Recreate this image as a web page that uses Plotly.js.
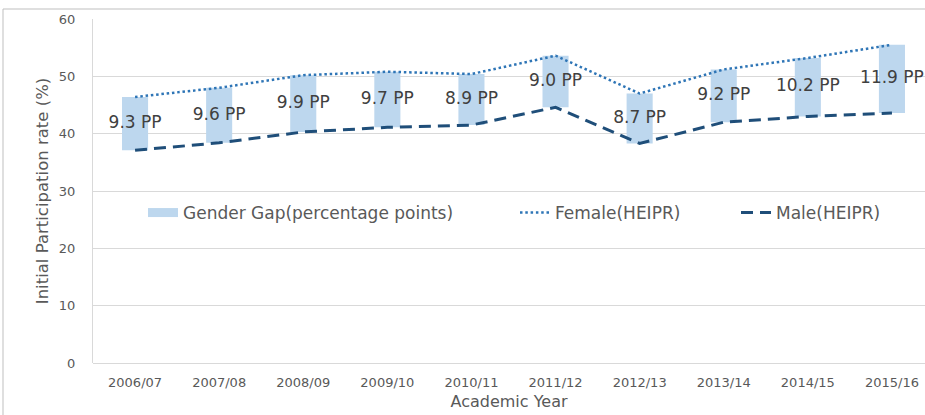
<!DOCTYPE html>
<html>
<head>
<meta charset="utf-8">
<script src="https://cdn.plot.ly/plotly-3.0.1.min.js"></script>
<style>html,body{margin:0;padding:0;background:#fff;}#chart{width:925px;height:415px;}</style>
</head>
<body>
<div id="chart"></div>
<script>
const years = ["2006/07","2007/08","2008/09","2009/10","2010/11","2011/12","2012/13","2013/14","2014/15","2015/16"];
const female = [46.4, 48.0, 50.2, 50.8, 50.4, 53.6, 47.0, 51.2, 53.2, 55.5];
const male = [37.1, 38.4, 40.3, 41.1, 41.5, 44.6, 38.3, 42.0, 43.0, 43.6];
const gap = [9.3, 9.6, 9.9, 9.7, 8.9, 9.0, 8.7, 9.2, 10.2, 11.9];
const yTicks = [0, 10, 20, 30, 40, 50, 60];

const FONT = "DejaVu Sans";
const GREY = "#595959";
const L = 93, R = 925, T = 19, B = 363;
const pw = R - L, ph = B - T;
const px = v => (v - L) / pw;
const py = v => (B - v) / ph;

const gapLabels = gap.map(g => g.toFixed(1) + " PP");
const labelY = male.map((m, i) => m + gap[i] / 2);

const traces = [
  {type: "bar", x: years, y: gap, base: male, width: 0.31,
   marker: {color: "#BDD7EE", line: {width: 0}}, showlegend: false, hoverinfo: "skip"},
  {type: "scatter", mode: "lines", name: "Gender Gap(percentage points)",
   x: [null], y: [null], line: {color: "#BDD7EE", width: 9}, legend: "legend", hoverinfo: "skip"},
  {type: "scatter", mode: "lines", name: "Female(HEIPR)", x: years, y: female,
   line: {color: "#2E75B6", width: 2.5, dash: "2.5px,2.8px"}, legend: "legend2"},
  {type: "scatter", mode: "lines", name: "Male(HEIPR)", x: years, y: male,
   line: {color: "#1F4E79", width: 3, dash: "12px,7px"}, legend: "legend3"},
  {type: "scatter", mode: "text", x: years, y: labelY, text: gapLabels,
   textposition: "middle center", textfont: {family: FONT, size: 17, color: "#404040"},
   showlegend: false, hoverinfo: "skip"}
];

const legBase = {orientation: "h", yanchor: "middle", xanchor: "left", y: py(213),
  bgcolor: "rgba(0,0,0,0)", borderwidth: 0,
  font: {family: FONT, size: 17, color: GREY}, itemwidth: 30};

const layout = {
  width: 925, height: 415,
  margin: {l: L, r: 925 - R, t: T, b: 415 - B, pad: 0},
  paper_bgcolor: "#fff", plot_bgcolor: "#fff",
  font: {family: FONT, color: GREY},
  barmode: "overlay",
  xaxis: {
    type: "category", range: [-0.5, 9.393], showgrid: false, zeroline: false,
    showline: false, ticks: "", tickfont: {family: FONT, size: 13, color: GREY},
    ticklabelstandoff: 10,
    title: {text: "Academic Year", font: {family: FONT, size: 16, color: GREY}, standoff: 6}
  },
  yaxis: {
    range: [0, 60], tickvals: yTicks, showgrid: true, gridcolor: "#D9D9D9", gridwidth: 1,
    zeroline: true, zerolinecolor: "#D9D9D9", zerolinewidth: 1,
    showline: true, linecolor: "#D9D9D9", linewidth: 1,
    ticks: "", tickfont: {family: FONT, size: 13, color: GREY}, ticklabelstandoff: 14,
    title: {text: "Initial Participation rate (%)", font: {family: FONT, size: 16.5, color: GREY}, standoff: 6}
  },
  legend: Object.assign({}, legBase, {x: px(143)}),
  legend2: Object.assign({}, legBase, {x: px(515)}),
  legend3: Object.assign({}, legBase, {x: px(736)}),
  shapes: [
    {type: "rect", xref: "paper", yref: "paper", x0: px(3), x1: px(940), y0: py(430), y1: py(9),
     line: {color: "#BFBFBF", width: 1}, fillcolor: "rgba(0,0,0,0)", layer: "below"}
  ]
};

Plotly.newPlot("chart", traces, layout, {staticPlot: true, displayModeBar: false});
</script>
</body>
</html>
